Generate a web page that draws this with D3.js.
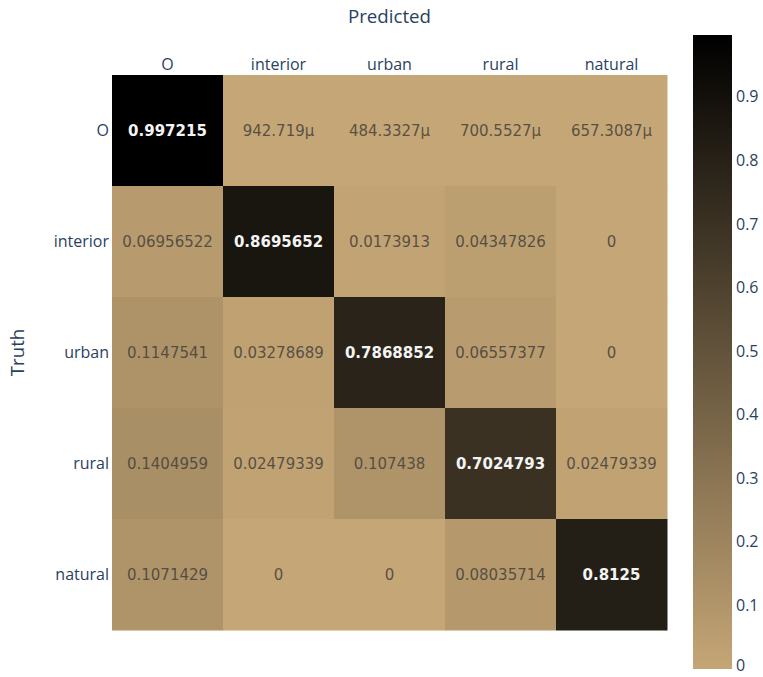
<!DOCTYPE html>
<html>
<head>
<meta charset="utf-8">
<script src="https://cdn.jsdelivr.net/npm/d3@7"></script>
<style>
  body { margin: 0; background: #fff; }
  svg { display: block; }
</style>
</head>
<body>
<div id="chart"></div>
<script>
const predicted = ['O', 'interior', 'urban', 'rural', 'natural'];
const truth = ['O', 'interior', 'urban', 'rural', 'natural'];

// rows = truth, columns = predicted
const rowO        = [0.997215, 0.000942719, 0.0004843327, 0.0007005527, 0.0006573087];
const rowInterior = [0.06956522, 0.8695652, 0.0173913, 0.04347826, 0];
const rowUrban    = [0.1147541, 0.03278689, 0.7868852, 0.06557377, 0];
const rowRural    = [0.1404959, 0.02479339, 0.107438, 0.7024793, 0.02479339];
const rowNatural  = [0.1071429, 0, 0, 0.08035714, 0.8125];
const matrix = [rowO, rowInterior, rowUrban, rowRural, rowNatural];

const colorTicks = [0, 0.1, 0.2, 0.3, 0.4, 0.5, 0.6, 0.7, 0.8, 0.9];

const width = 763, height = 677;
const margin = { left: 112, right: 96, top: 75, bottom: 47 };
const fontLabel = '"Open Sans", sans-serif';
const fontCell = '"DejaVu Sans", Verdana, sans-serif';
const axisColor = '#2a3f5f';

const svg = d3.select('#chart').append('svg')
    .attr('width', width)
    .attr('height', height);

const x = d3.scaleBand().domain(predicted).range([margin.left, width - margin.right]);
const y = d3.scaleBand().domain(truth).range([margin.top, height - margin.bottom]);

const zMax = d3.max(matrix.flat());
const color = d3.scaleLinear()
    .domain([0, zMax])
    .range(['rgb(197,166,118)', 'rgb(0,0,0)'])
    .interpolate(d3.interpolateRgb);

const fmt = v => {
    if (v === 0) return '0';
    if (v < 0.001) return (+(v * 1e6).toPrecision(7)) + 'μ';
    return String(v);
};

const cells = [];
matrix.forEach((row, i) => row.forEach((v, j) => cells.push({ r: truth[i], c: predicted[j], v })));

svg.append('g')
    .selectAll('rect')
    .data(cells)
    .join('rect')
    .attr('x', d => x(d.c))
    .attr('y', d => y(d.r))
    .attr('width', x.bandwidth() + 0.5)
    .attr('height', y.bandwidth() + 0.5)
    .attr('fill', d => color(d.v));

svg.append('g')
    .selectAll('text')
    .data(cells)
    .join('text')
    .attr('x', d => x(d.c) + x.bandwidth() / 2)
    .attr('y', d => y(d.r) + y.bandwidth() / 2)
    .attr('dy', '0.36em')
    .attr('text-anchor', 'middle')
    .attr('font-family', fontCell)
    .attr('font-size', 15)
    .attr('font-weight', d => d.v > 0.5 ? 'bold' : 'normal')
    .attr('fill', d => d.v > 0.5 ? '#f4f4f4' : 'rgba(68,64,58,0.85)')
    .text(d => fmt(d.v));

// top axis
const xAxis = svg.append('g')
    .attr('transform', `translate(0,${margin.top})`)
    .call(d3.axisTop(x).tickSize(0).tickPadding(5));
xAxis.select('.domain').remove();
xAxis.selectAll('text')
    .attr('font-family', fontLabel)
    .attr('font-size', 16)
    .attr('fill', axisColor);

// left axis
const yAxis = svg.append('g')
    .attr('transform', `translate(${margin.left},0)`)
    .call(d3.axisLeft(y).tickSize(0).tickPadding(3));
yAxis.select('.domain').remove();
yAxis.selectAll('text')
    .attr('font-family', fontLabel)
    .attr('font-size', 16)
    .attr('fill', axisColor);

svg.append('text')
    .attr('x', (margin.left + width - margin.right) / 2)
    .attr('y', 23)
    .attr('text-anchor', 'middle')
    .attr('font-family', fontLabel)
    .attr('font-size', 18.7)
    .attr('fill', axisColor)
    .text('Predicted');

svg.append('text')
    .attr('transform', `translate(24,${(margin.top + height - margin.bottom) / 2}) rotate(-90)`)
    .attr('text-anchor', 'middle')
    .attr('font-family', fontLabel)
    .attr('font-size', 18.7)
    .attr('fill', axisColor)
    .text('Truth');

// colorbar
const cb = { x: 693, w: 39, top: 35, bottom: 669 };
const cbScale = d3.scaleLinear().domain([0, zMax]).range([cb.bottom, cb.top]);

const defs = svg.append('defs');
const grad = defs.append('linearGradient')
    .attr('id', 'cbgrad')
    .attr('x1', 0).attr('y1', 1).attr('x2', 0).attr('y2', 0);
grad.append('stop').attr('offset', '0%').attr('stop-color', color(0));
grad.append('stop').attr('offset', '100%').attr('stop-color', color(zMax));

svg.append('rect')
    .attr('x', cb.x)
    .attr('y', cb.top)
    .attr('width', cb.w)
    .attr('height', cb.bottom - cb.top)
    .attr('fill', 'url(#cbgrad)');

const cAxis = svg.append('g')
    .attr('transform', `translate(${cb.x + cb.w},0)`)
    .call(d3.axisRight(cbScale).tickValues(colorTicks).tickSize(0).tickPadding(4).tickFormat(d3.format('~g')));
cAxis.select('.domain').remove();
cAxis.selectAll('text')
    .attr('font-family', fontLabel)
    .attr('font-size', 16)
    .attr('fill', axisColor)
    .attr('dy', d => d === 0 ? '0.1em' : '0.32em');
</script>
</body>
</html>
